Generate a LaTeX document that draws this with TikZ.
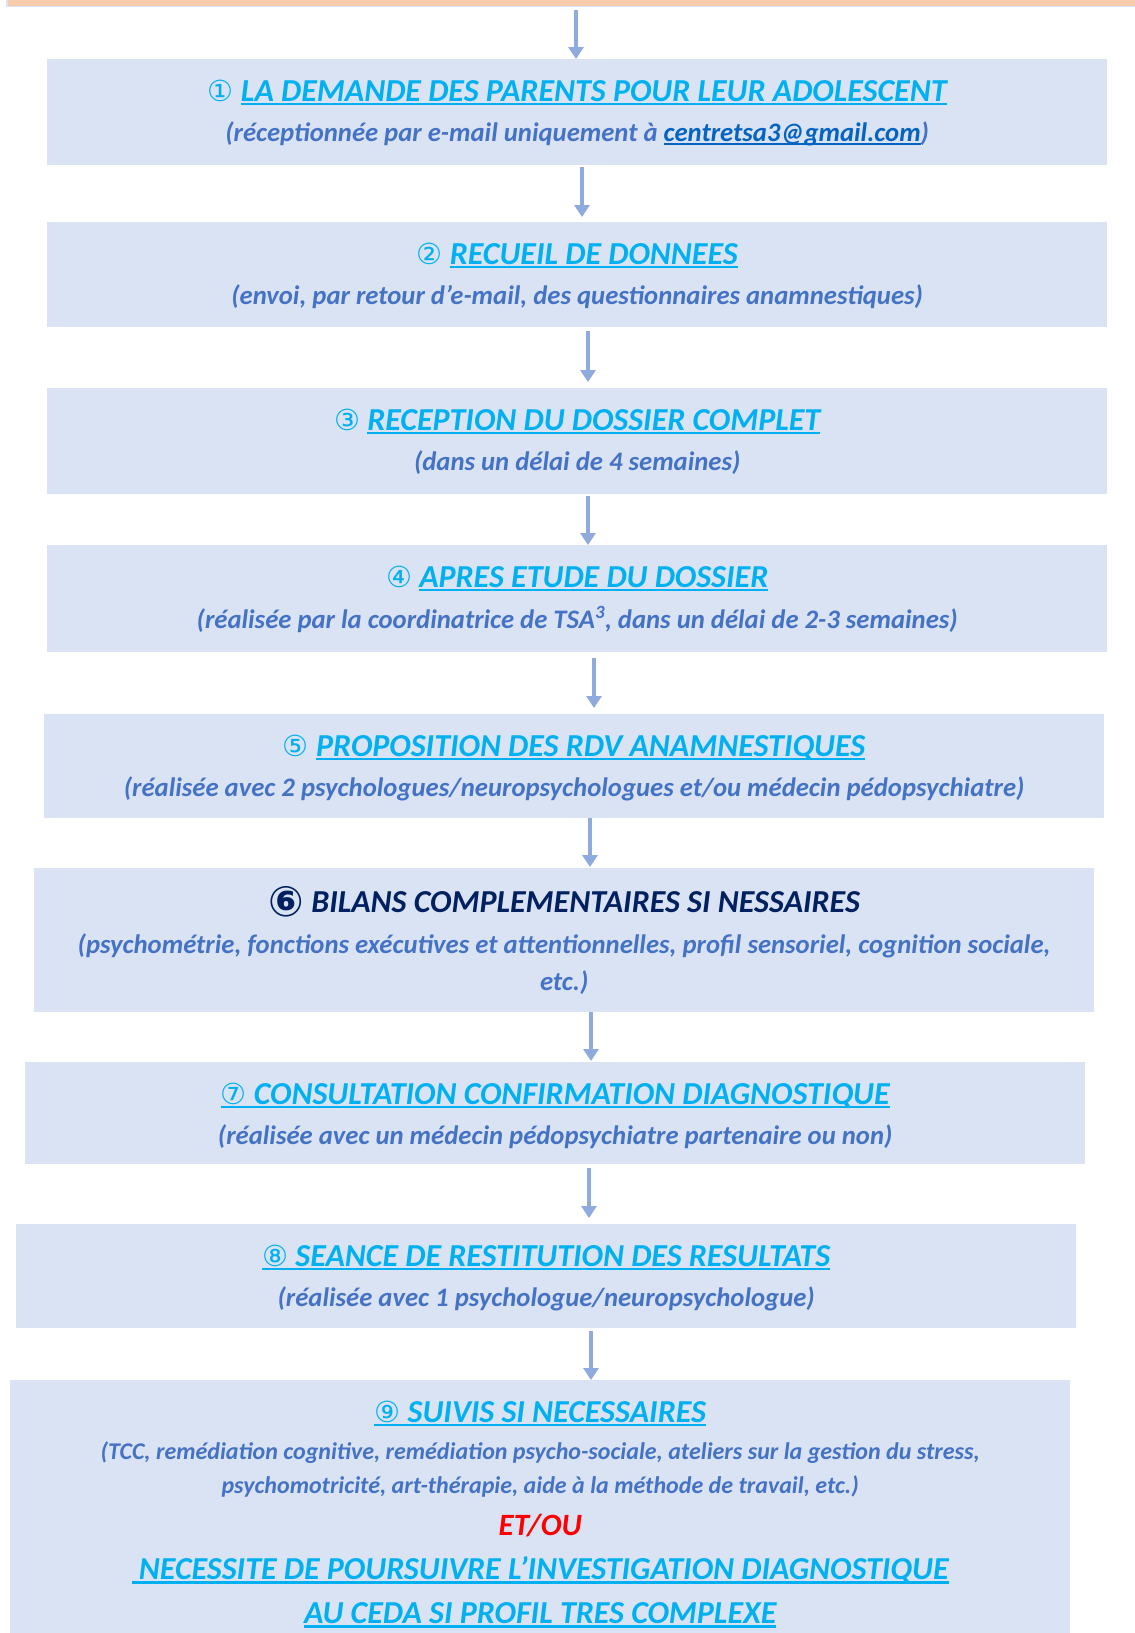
\documentclass[tikz,border=0pt]{standalone}
\usepackage{fontspec}
\setmainfont{Carlito}
\newfontfamily\circfont{DejaVu Sans}
\usetikzlibrary{arrows.meta, calc}

\definecolor{boxfill}{HTML}{DAE3F3}
\definecolor{arrowblue}{HTML}{8FAADC}
\definecolor{titlecyan}{HTML}{00B0F0}
\definecolor{subblue}{HTML}{4472C4}
\definecolor{linkblue}{HTML}{0563C1}
\definecolor{navy}{HTML}{002060}
\definecolor{topband}{HTML}{F8CBAD}

% underline with a rule in the current colour
\newlength\ulwd
\newcommand\ulin[1]{\settowidth\ulwd{#1}\rlap{\rule[-0.14em]{\ulwd}{0.065em}}#1}
\newcommand\cnum[1]{{\circfont\mdseries\upshape\fontsize{29}{29}\selectfont #1}}

\tikzset{
    stepbox/.style={fill=boxfill, anchor=north west, minimum width=1060pt, minimum height=#1, inner sep=0pt},
    flow/.style={-{Triangle[width=15pt,length=12pt]}, line width=4pt, draw=arrowblue},
    ttl/.style={anchor=base, inner sep=0pt, text=titlecyan, font=\fontsize{32}{34}\selectfont\bfseries\itshape},
    sub/.style={anchor=base, inner sep=0pt, text=subblue, font=\fontsize{26.7}{28}\selectfont\bfseries\itshape},
    smallsub/.style={sub, font=\fontsize{24}{26}\selectfont\bfseries\itshape},
}

\begin{document}
\begin{tikzpicture}[x=1pt, y=-1pt]
    \useasboundingbox (0,0) rectangle (1135,1633);

    % top band
    \node[fill=topband, anchor=north west, minimum width=1128pt, minimum height=6pt, inner sep=0pt] (top) at (7,0) {};
    \draw[boxfill, line width=1.5pt] (top.north west) -- (top.south west) -- (top.south east);

    % boxes
    \foreach \n/\x/\y/\h in {
        1/47/59/106,
        2/47/222/105,
        3/47/388/106,
        4/47/545/107,
        5/44/714/104,
        6/34/868/144,
        7/25/1062/102,
        8/16/1224/104,
        9/10/1380/260}{
        \node[stepbox=\h pt] (b\n) at (\x,\y) {};
    }

    % arrows
    \draw[flow, shorten <=4pt] (top.south -| 576,0) -- (b1.north -| 576,0);
    \foreach \a/\b/\x/\s/\e in {
        1/2/582/2/5,
        2/3/588/4/6,
        3/4/588/2/0,
        4/5/594/6/6,
        5/6/590/0/1,
        6/7/591/0/1,
        7/8/589/4/6,
        8/9/591/3/0}{
        \draw[flow, shorten <=\s pt, shorten >=\e pt] (b\a.south -| \x,0) -- (b\b.north -| \x,0);
    }

    % texts
    \node[ttl] (t1) at ([yshift=-42pt]b1.north) {\cnum{①} \ulin{LA DEMANDE DES PARENTS POUR LEUR ADOLESCENT}};
    \node[sub] (s1) at ([yshift=-82pt]b1.north) {(réceptionnée par e-mail uniquement à \textcolor{linkblue}{\ulin{centretsa3@gmail.com}})};

    \node[ttl] (t2) at ([yshift=-42pt]b2.north) {\cnum{②} \ulin{RECUEIL DE DONNEES}};
    \node[sub] (s2) at ([yshift=-82pt]b2.north) {(envoi, par retour d’e-mail, des questionnaires anamnestiques)};

    \node[ttl] (t3) at ([yshift=-42pt]b3.north) {\cnum{③} \ulin{RECEPTION DU DOSSIER COMPLET}};
    \node[sub] (s3) at ([yshift=-82pt]b3.north) {(dans un délai de 4 semaines)};

    \node[ttl] (t4) at ([yshift=-42pt]b4.north) {\cnum{④} \ulin{APRES ETUDE DU DOSSIER}};
    \node[sub] (s4) at ([yshift=-83pt]b4.north) {(réalisée par la coordinatrice de TSA\textsuperscript{3}, dans un délai de 2-3 semaines)};

    \node[ttl] (t5) at ([yshift=-42pt]b5.north) {\cnum{⑤} \ulin{PROPOSITION DES RDV ANAMNESTIQUES}};
    \node[sub] (s5) at ([yshift=-82pt]b5.north) {(réalisée avec 2 psychologues/neuropsychologues et/ou médecin pédopsychiatre)};

    \node[ttl, text=navy] (t6) at ([yshift=-44pt]b6.north)
        {\raisebox{-4pt}{\circfont\upshape\fontsize{42}{42}\selectfont ⑥} BILANS COMPLEMENTAIRES SI NESSAIRES};
    \node[sub] (s6a) at ([yshift=-85pt]b6.north) {(psychométrie, fonctions exécutives et attentionnelles, profil sensoriel, cognition sociale,};
    \node[sub] (s6b) at ([yshift=-122pt]b6.north) {etc.)};

    \node[ttl] (t7) at ([yshift=-42pt]b7.north) {\ulin{\cnum{⑦} CONSULTATION CONFIRMATION DIAGNOSTIQUE}};
    \node[sub] (s7) at ([yshift=-82pt]b7.north) {(réalisée avec un médecin pédopsychiatre partenaire ou non)};

    \node[ttl] (t8) at ([yshift=-42pt]b8.north) {\ulin{\cnum{⑧} SEANCE DE RESTITUTION DES RESULTATS}};
    \node[sub] (s8) at ([yshift=-82pt]b8.north) {(réalisée avec 1 psychologue/neuropsychologue)};

    \node[ttl] (t9) at ([yshift=-42pt]b9.north) {\ulin{\cnum{⑨} SUIVIS SI NECESSAIRES}};
    \node[smallsub] (s9a) at ([yshift=-79pt]b9.north) {(TCC, remédiation cognitive, remédiation psycho-sociale, ateliers sur la gestion du stress,};
    \node[smallsub] (s9b) at ([yshift=-113pt]b9.north) {psychomotricité, art-thérapie, aide à la méthode de travail, etc.)};
    \node[ttl, text=red, font=\fontsize{31}{33}\selectfont\bfseries\itshape] (et) at ([yshift=-155pt]b9.north) {ET/OU};
    \node[ttl] (n9a) at ([yshift=-199pt]b9.north) {\ulin{\ NECESSITE DE POURSUIVRE L’INVESTIGATION DIAGNOSTIQUE}};
    \node[ttl] (n9b) at ([yshift=-243pt]b9.north) {\ulin{AU CEDA SI PROFIL TRES COMPLEXE}};
\end{tikzpicture}
\end{document}
